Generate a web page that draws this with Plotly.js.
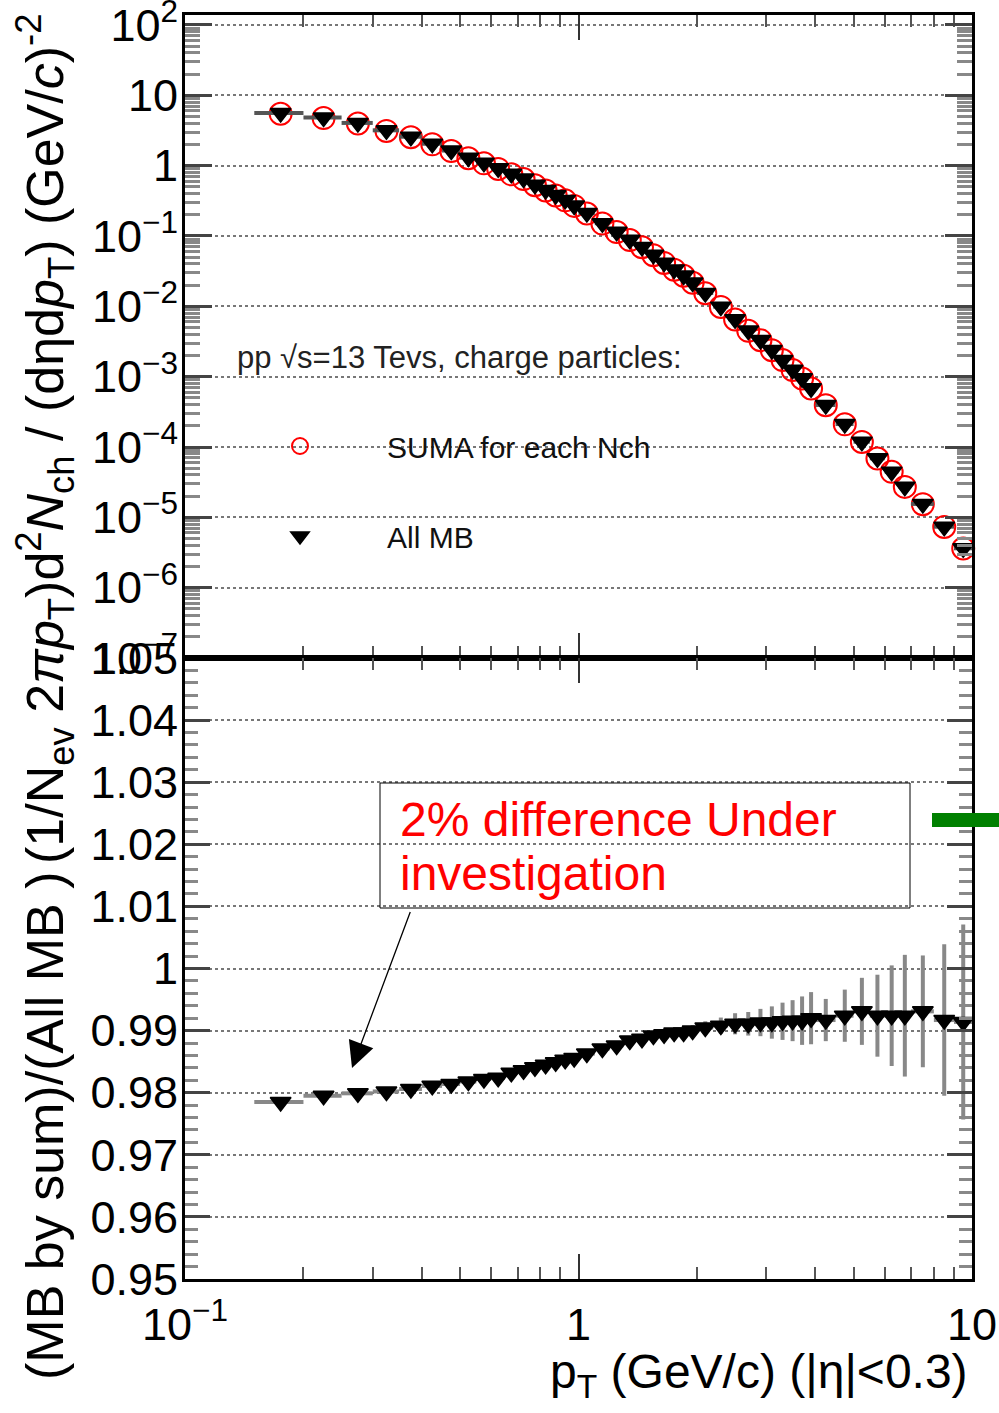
<!DOCTYPE html>
<html><head><meta charset="utf-8">
<script src="https://cdn.plot.ly/plotly-3.0.1.min.js"></script>
<style>html,body{margin:0;padding:0;background:#fff}#chart{width:999px;height:1413px}</style>
</head><body><div id="chart"></div>
<script>
// pT bin centres (GeV/c) and half bin widths
const ptCenters = [0.175,0.225,0.275,0.325,0.375,0.425,0.475,0.525,0.575,0.625,0.675,0.725,0.775,0.825,0.875,0.925,0.975,
  1.05,1.15,1.25,1.35,1.45,1.55,1.65,1.75,1.85,1.95,
  2.1,2.3,2.5,2.7,2.9,3.1,3.3,3.5,3.7,3.9,
  4.25,4.75,5.25,5.75,6.25,6.75,7.5,8.5,9.5];
const ptHalfWidths = [0.025,0.025,0.025,0.025,0.025,0.025,0.025,0.025,0.025,0.025,0.025,0.025,0.025,0.025,0.025,0.025,0.025,
  0.05,0.05,0.05,0.05,0.05,0.05,0.05,0.05,0.05,0.05,
  0.1,0.1,0.1,0.1,0.1,0.1,0.1,0.1,0.1,0.1,
  0.25,0.25,0.25,0.25,0.25,0.25,0.5,0.5,0.5];
// All MB invariant yield
const allMB = [5.60,4.85,4.05,3.18,2.58,2.05,1.64,1.30,1.10,0.915,0.765,0.655,0.535,0.452,0.383,0.326,0.272,
  0.212,0.152,0.115,0.0885,0.0700,0.0540,0.0418,0.0335,0.0275,0.0218,
  0.0155,0.0099,0.00655,0.00452,0.00333,0.00240,0.00173,0.00125,0.000950,0.000685,
  0.000396,0.000212,0.000119,0.0000691,0.0000446,0.0000273,0.0000155,0.00000736,0.00000363];
// SUMA for each Nch
const sumaNch = [5.48,4.75,3.97,3.12,2.53,2.01,1.61,1.276,1.080,0.899,0.752,0.644,0.5265,0.445,0.377,0.321,0.268,
  0.209,0.150,0.1136,0.0875,0.0692,0.0534,0.0414,0.0332,0.0272,0.0216,
  0.01535,0.00981,0.00649,0.00448,0.00330,0.00238,0.00172,0.00124,0.000942,0.000680,
  0.000393,0.000210,0.000118,0.0000686,0.0000443,0.0000271,0.0000154,0.00000730,0.00000360];
// Ratio (MB by sum)/(All MB)
const ratioMBsum = [0.9785,0.9795,0.9799,0.9802,0.9806,0.9811,0.9814,0.9818,0.9822,0.9824,0.9832,0.9836,0.9841,0.9845,0.9849,0.9853,0.9856,
  0.9863,0.9871,0.9876,0.9884,0.9887,0.9892,0.9894,0.9897,0.9897,0.9900,
  0.9905,0.9908,0.9911,0.9911,0.9913,0.9913,0.9915,0.9916,0.9916,0.9920,
  0.9917,0.9924,0.9931,0.9924,0.9924,0.9924,0.9931,0.9917,0.9914];
const ratioErr = [0.0001,0.0001,0.0001,0.0001,0.0001,0.0001,0.0001,0.0001,0.0001,0.0001,0.0001,0.0002,0.0002,0.0002,0.0002,0.0002,0.0002,
  0.0003,0.0003,0.0004,0.0004,0.0005,0.0005,0.0006,0.0007,0.0008,0.0009,
  0.0010,0.0013,0.0017,0.0019,0.0022,0.0026,0.0030,0.0033,0.0039,0.0042,
  0.0034,0.0042,0.0054,0.0066,0.0081,0.0098,0.0090,0.0122,0.0157];

// tick labels
const topTickVals = [1e-7,1e-6,1e-5,1e-4,1e-3,1e-2,1e-1,1,10,100];
const topTickText = ['10<sup>−7</sup>','10<sup>−6</sup>','10<sup>−5</sup>','10<sup>−4</sup>','10<sup>−3</sup>','10<sup>−2</sup>','10<sup>−1</sup>','1','10','10<sup>2</sup>'];
const xTickVals = [0.1,1,10];
const xTickText = ['10<sup>−1</sup>','1','10'];
const ratioTickVals = [0.95,0.96,0.97,0.98,0.99,1.00,1.01,1.02,1.03,1.04,1.05];
const ratioTickText = ['0.95','0.96','0.97','0.98','0.99','1','1.01','1.02','1.03','1.04','1.05'];

const FONT = 'Liberation Sans, Arial, Helvetica, sans-serif';
const W = 999, H = 1413, ML = 185, MR = 27, MT = 15, MB = 134;
const PW = W - ML - MR, PH = H - MT - MB;
const px = v => (v - ML) / PW;          // pixel -> paper x
const py = v => (H - MB - v) / PH;      // pixel -> paper y
const split = py(658);

const traces = [
  {x: ptCenters, y: sumaNch, xaxis: 'x', yaxis: 'y', type: 'scatter', mode: 'markers',
   name: 'SUMA for each Nch', legendgroup: 'a', cliponaxis: false,
   marker: {symbol: 'circle-open', size: 22, color: '#ff0000', line: {width: 2, color: '#ff0000'}}},
  {x: ptCenters, y: allMB, xaxis: 'x', yaxis: 'y', type: 'scatter', mode: 'markers',
   name: 'All MB', legendgroup: 'b', cliponaxis: false,
   error_x: {type: 'data', array: ptHalfWidths, color: '#555', thickness: 4, width: 0},
   marker: {symbol: 'triangle-down', size: 18, color: '#000', line: {width: 1.5, color: '#000'}}},
  {x: ptCenters, y: ratioMBsum, xaxis: 'x2', yaxis: 'y2', type: 'scatter', mode: 'markers',
   name: 'ratio', showlegend: false,
   error_x: {type: 'data', array: ptHalfWidths, color: '#888', thickness: 4, width: 0},
   error_y: {type: 'data', array: ratioErr, color: '#888', thickness: 4, width: 0},
   marker: {symbol: 'triangle-down', size: 18, color: '#000', line: {width: 1.5, color: '#000'}}}
];

const xCommon = {type: 'log', range: [-1, 1], tickmode: 'array', tickvals: xTickVals, ticktext: xTickText,
  ticks: 'inside', ticklen: 25, tickwidth: 2, tickcolor: '#333', mirror: 'allticks',
  showline: true, linewidth: 3, linecolor: '#000', showgrid: false, zeroline: false,
  ticklabeloverflow: 'allow',
  minor: {dtick: 'D1', ticks: 'inside', ticklen: 12, tickwidth: 2, tickcolor: '#555', showgrid: false},
  tickfont: {size: 45, color: '#000', family: FONT}};

const layout = {
  width: W, height: H,
  margin: {l: ML, r: MR, t: MT, b: MB},
  paper_bgcolor: '#fff', plot_bgcolor: 'rgba(0,0,0,0)',
  font: {family: FONT, color: '#000'},
  showlegend: true,
  legend: {x: px(213), y: py(420), xanchor: 'left', yanchor: 'top', bgcolor: 'rgba(0,0,0,0)',
    borderwidth: 0, font: {size: 30, color: '#111', family: FONT}, itemwidth: 164, tracegroupgap: 48},
  xaxis: Object.assign({}, xCommon, {domain: [0, 1], anchor: 'y', showticklabels: false}),
  xaxis2: Object.assign({}, xCommon, {domain: [0, 1], anchor: 'y2', showticklabels: true, ticklabelstandoff: 4}),
  yaxis: {domain: [split, 1], anchor: 'x', type: 'log', range: [-7, 2.142],
    tickmode: 'array', tickvals: topTickVals, ticktext: topTickText,
    ticks: 'inside', ticklen: 27, tickwidth: 3, tickcolor: '#444', mirror: 'allticks',
    showline: true, linewidth: 3, linecolor: '#000', ticklabeloverflow: 'allow', ticklabelstandoff: -5,
    showgrid: true, gridcolor: '#777', griddash: 'dot', gridwidth: 2, zeroline: false,
    minor: {dtick: 'D1', ticks: 'inside', ticklen: 15, tickwidth: 3, tickcolor: '#888', showgrid: false},
    tickfont: {size: 45, color: '#000', family: FONT}},
  yaxis2: {domain: [0, split], anchor: 'x2', range: [0.95, 1.05],
    tickmode: 'array', tickvals: ratioTickVals, ticktext: ratioTickText,
    ticks: 'inside', ticklen: 25, tickwidth: 3, tickcolor: '#444', mirror: 'allticks',
    showline: true, linewidth: 3, linecolor: '#000', ticklabeloverflow: 'allow', ticklabelstandoff: -5,
    showgrid: true, gridcolor: '#777', griddash: 'dot', gridwidth: 2, zeroline: false,
    minor: {tickmode: 'linear', tick0: 0.95, dtick: 0.002, ticks: 'inside', ticklen: 13, tickwidth: 3, tickcolor: '#888', showgrid: false},
    tickfont: {size: 45, color: '#000', family: FONT}},
  shapes: [
    {type: 'rect', xref: 'paper', yref: 'paper', x0: px(380), x1: px(910), y0: py(908), y1: py(783),
     line: {color: '#000', width: 1}, fillcolor: 'rgba(0,0,0,0)', layer: 'above'},
    {type: 'rect', xref: 'paper', yref: 'paper', x0: px(932), x1: px(1005), y0: py(827), y1: py(813),
     line: {width: 0}, fillcolor: '#008000', layer: 'above'}
  ],
  annotations: [
    {xref: 'paper', yref: 'paper', x: px(45), y: py(1382), xanchor: 'center', yanchor: 'bottom',
     textangle: -90, showarrow: false, font: {size: 52, color: '#000', family: FONT},
     text: '(MB by sum)/(All MB )'},
    {xref: 'paper', yref: 'paper', x: px(45), y: py(12), xanchor: 'center', yanchor: 'top',
     textangle: -90, showarrow: false, font: {size: 52, color: '#000', family: FONT},
     text: '(1/N<sub>ev</sub> 2<i>πp</i><sub>T</sub>)d<sup>2</sup><i>N</i><sub>ch</sub> / (dηd<i>p</i><sub>T</sub>) (GeV/<i>c</i>)<sup>-2</sup>'},
    {xref: 'paper', yref: 'paper', x: px(970), y: py(1375), xanchor: 'right', yanchor: 'middle',
     showarrow: false, font: {size: 48, color: '#000', family: FONT},
     text: 'p<sub>T</sub> (GeV/c) (|η|&lt;0.3)'},
    {xref: 'paper', yref: 'paper', x: px(235), y: py(357), xanchor: 'left', yanchor: 'middle',
     showarrow: false, font: {size: 31, color: '#222', family: FONT},
     text: 'pp √s=13 Tevs, charge particles:'},
    {xref: 'paper', yref: 'paper', x: px(398), y: py(820), xanchor: 'left', yanchor: 'middle',
     showarrow: false, font: {size: 48, color: '#ff0000', family: FONT},
     text: '2% difference Under'},
    {xref: 'paper', yref: 'paper', x: px(398), y: py(873), xanchor: 'left', yanchor: 'middle',
     showarrow: false, font: {size: 48, color: '#ff0000', family: FONT},
     text: 'investigation'},
    {xref: 'paper', yref: 'paper', x: px(352), y: py(1068), ax: 59, ay: -158,
     text: '\u200b', font: {size: 1}, showarrow: true, arrowhead: 2, arrowsize: 4, arrowwidth: 1.3, arrowcolor: '#000'}
  ]
};

Plotly.newPlot('chart', traces, layout, {displayModeBar: false, staticPlot: true});
</script>
</body></html>
